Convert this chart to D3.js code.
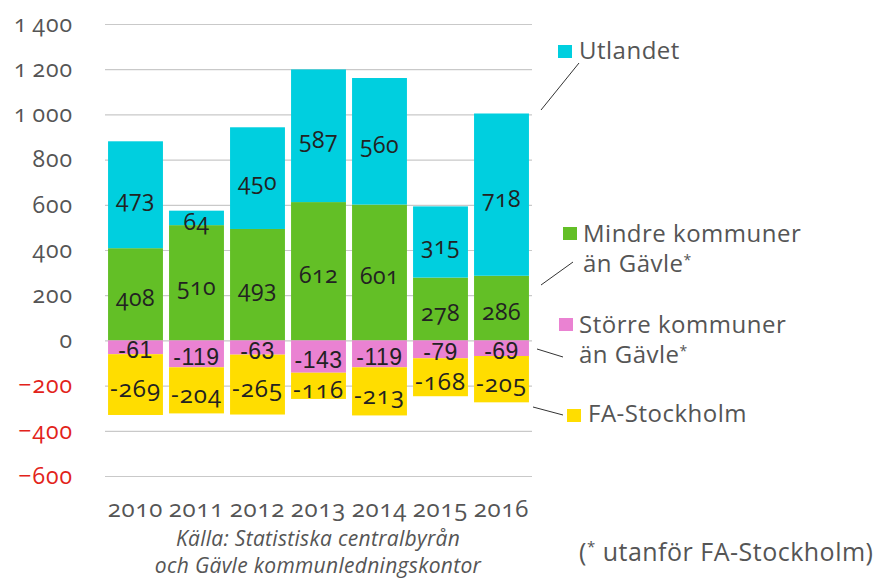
<!DOCTYPE html>
<html>
<head>
<meta charset="utf-8">
<script src="https://cdn.jsdelivr.net/npm/d3@7"></script>
<style>
  body { margin: 0; background: #fff; }
  svg { font-family: "Open Sans", sans-serif; font-feature-settings: "onum" 1; }
</style>
</head>
<body>
<svg id="chart" width="877" height="581"></svg>
<script>
// data
const years = ['2010', '2011', '2012', '2013', '2014', '2015', '2016'];
const utlandet = [473, 64, 450, 587, 560, 315, 718];
const mindre = [408, 510, 493, 612, 601, 278, 286];
const storre = [-61, -119, -63, -143, -119, -79, -69];
const faStockholm = [-269, -204, -265, -116, -213, -168, -205];
const yTicks = [1400, 1200, 1000, 800, 600, 400, 200, 0, -200, -400, -600];

const colors = {
  utlandet: '#00cfdf',
  mindre: '#63bf26',
  storre: '#ea82d2',
  fa: '#ffdd00'
};

const svg = d3.select('#chart');

const x = d3.scaleBand().domain(years).range([105, 532]).paddingInner(0.1).paddingOuter(0.05);
const y = d3.scaleLinear().domain([-600, 1400]).range([476, 24]);

// gridlines behind bars
const yAxis = d3.axisLeft(y)
  .tickValues(yTicks)
  .tickSize(-(532 - 105))
  .tickPadding(32)
  .tickFormat(d => d3.format(',')(d).replace(',', '\u2009'));

const gAxis = svg.append('g')
  .attr('transform', 'translate(105,0)')
  .call(yAxis);
gAxis.select('.domain').remove();
gAxis.selectAll('.tick line').attr('stroke', '#c9c9c9').attr('stroke-width', 1.2);
gAxis.selectAll('.tick text')
  .attr('font-size', 23)
  .attr('font-family', '"Open Sans", sans-serif')
  .attr('fill', d => d < 0 ? '#e2231a' : '#555')
  .attr('letter-spacing', 1);

// stacked segments
const segs = [];
years.forEach((yr, i) => {
  segs.push({ yr, y0: 0, y1: mindre[i], v: mindre[i], c: colors.mindre, f: 'o' });
  segs.push({ yr, y0: mindre[i], y1: mindre[i] + utlandet[i], v: utlandet[i], c: colors.utlandet, f: 'o' });
  segs.push({ yr, y0: 0, y1: storre[i], v: storre[i], c: colors.storre, f: 'a' });
  segs.push({ yr, y0: storre[i], y1: storre[i] + faStockholm[i], v: faStockholm[i], c: colors.fa, f: 'y' });
});

svg.append('g')
  .selectAll('rect')
  .data(segs)
  .join('rect')
  .attr('x', d => x(d.yr))
  .attr('width', x.bandwidth())
  .attr('y', d => y(Math.max(d.y0, d.y1)))
  .attr('height', d => Math.abs(y(d.y0) - y(d.y1)))
  .attr('fill', d => d.c);

svg.append('g')
  .selectAll('text')
  .data(segs)
  .join('text')
  .attr('x', d => x(d.yr) + x.bandwidth() / 2)
  .attr('y', d => (y(d.y0) + y(d.y1)) / 2 + 3)
  .attr('text-anchor', 'middle')
  .attr('dominant-baseline', 'central')
  .attr('font-size', d => d.f === 'y' ? 24 : 23)
  .attr('letter-spacing', d => d.f === 'y' ? 1 : 0.5)
  .attr('font-family', d => d.f === 'a' ? '"Liberation Sans", Arial, sans-serif' : '"Open Sans", sans-serif')
  .attr('fill', '#222')
  .text(d => d.v < 0 ? '-' + Math.abs(d.v) : d.v);

// year labels
svg.append('g')
  .selectAll('text')
  .data(years)
  .join('text')
  .attr('x', d => x(d) + x.bandwidth() / 2)
  .attr('y', 517)
  .attr('text-anchor', 'middle')
  .attr('font-size', 24)
  .attr('letter-spacing', 0.8)
  .attr('fill', '#555')
  .text(d => d);

// source, two lines
svg.append('g')
  .selectAll('text')
  .data(['Källa: Statistiska centralbyrån', 'och Gävle kommunledningskontor'])
  .join('text')
  .attr('x', 318)
  .attr('y', (d, i) => 546 + i * 27)
  .attr('text-anchor', 'middle')
  .attr('font-style', 'italic')
  .attr('font-size', 21)
  .attr('letter-spacing', 0.3)
  .attr('fill', '#555')
  .text(d => d);

// legend
const legend = [
  { c: colors.utlandet, sx: 558, sy: 45, tx: 579, lines: ['Utlandet'], ty: 59, ln: [579, 63, 541, 110] },
  { c: colors.mindre, sx: 563, sy: 227, tx: 583, lines: ['Mindre kommuner', 'än Gävle'], ty: 242, ln: [573, 262, 541, 285] },
  { c: colors.storre, sx: 559, sy: 318, tx: 579, lines: ['Större kommuner', 'än Gävle'], ty: 333, ln: [537, 349, 563, 357] },
  { c: colors.fa, sx: 567, sy: 409, tx: 588, lines: ['FA-Stockholm'], ty: 422, ln: [533, 407, 563, 415] }
];

const lg = svg.append('g').selectAll('g').data(legend).join('g');
lg.append('rect')
  .attr('x', d => d.sx).attr('y', d => d.sy)
  .attr('width', 14).attr('height', 13)
  .attr('fill', d => d.c);
lg.append('line')
  .attr('x1', d => d.ln[0]).attr('y1', d => d.ln[1])
  .attr('x2', d => d.ln[2]).attr('y2', d => d.ln[3])
  .attr('stroke', '#333').attr('stroke-width', 1);
lg.each(function (d) {
  const g = d3.select(this);
  d.lines.forEach((s, i) => {
    const t = g.append('text')
      .attr('x', d.tx).attr('y', d.ty + i * 30)
      .attr('font-size', 24)
      .attr('fill', '#555')
      .attr('letter-spacing', 0.5)
      .text(s);
    if (i === 1) {
      t.append('tspan').attr('dy', -7).attr('font-size', 14).text('*');
    }
  });
});

// footnote
const fn = svg.append('text')
  .attr('x', 579).attr('y', 561)
  .attr('font-size', 25)
  .attr('letter-spacing', 0.5)
  .attr('fill', '#555');
fn.append('tspan').text('(');
fn.append('tspan').attr('font-size', 15).attr('dy', -9).text('*');
fn.append('tspan').attr('dy', 9).text(' utanför FA-Stockholm)');
</script>
</body>
</html>
